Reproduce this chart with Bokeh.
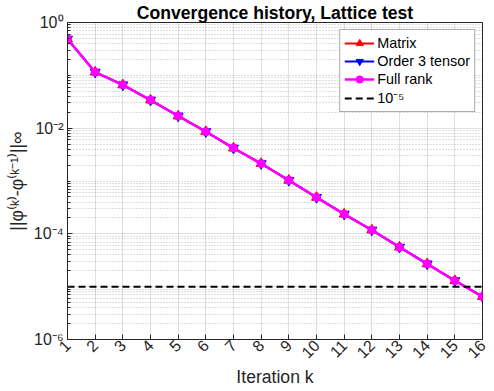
import math
from bokeh.plotting import figure
from bokeh.models import (FixedTicker, Legend, LegendItem,
                          CustomJSTickFormatter, Range1d)
from bokeh.embed import file_html
from bokeh.resources import INLINE

# ---- data ----
iterations = list(range(1, 17))
matrix = [0.485, 0.115, 0.066, 0.034, 0.017, 0.0086, 0.0042, 0.00214, 0.00103,
          0.00049, 0.000236, 0.000118, 0.000056, 0.000027, 0.000013, 0.0000065]
tensor3 = [0.485, 0.115, 0.066, 0.034, 0.017, 0.0086, 0.0042, 0.00214, 0.00103,
           0.00049, 0.000236, 0.000118, 0.000056, 0.000027, 0.000013, 0.0000065]
full_rank = [0.485, 0.115, 0.066, 0.034, 0.017, 0.0086, 0.0042, 0.00214, 0.00103,
             0.00049, 0.000236, 0.000118, 0.000056, 0.000027, 0.000013, 0.0000065]
threshold = 1e-5
x_ticks = list(range(1, 17))
y_major_ticks = [1e-6, 1e-4, 1e-2, 1e0]
y_exponents = list(range(-6, 0))
y_minor_ticks = [m * 10.0 ** e for e in y_exponents for m in range(1, 10)
                 if not (m == 1 and e % 2 == 0)]

TXT = "#262626"
FONT = "Liberation Sans"

p = figure(width=494, height=391, x_range=Range1d(1, 16), y_range=Range1d(1e-6, 1),
           y_axis_type="log", output_backend="svg", toolbar_location=None,
           min_border_left=67, min_border_right=12, min_border_top=20,
           min_border_bottom=52)

p.title.text = "Convergence history, Lattice test"
p.title.text_font = FONT
p.title.text_font_size = "17.6px"
p.title.text_font_style = "bold"
p.title.text_color = "black"
p.title.align = "center"
p.title.standoff = 0
p.title.offset = 0
p.title.text_line_height = 1.0

p.outline_line_color = TXT
p.outline_line_alpha = 1.0

# axes
xt = FixedTicker(ticks=x_ticks, minor_ticks=[])
yt = FixedTicker(ticks=y_major_ticks, minor_ticks=y_minor_ticks)
sup_code = """
const e = Math.round(Math.log10(tick));
const m = {'-':'\u207b','0':'\u2070','1':'\u00b9','2':'\u00b2','3':'\u00b3','4':'\u2074',
           '5':'\u2075','6':'\u2076','7':'\u2077','8':'\u2078','9':'\u2079'};
return '10' + String(e).split('').map(c => m[c]).join('');
"""
p.xaxis.ticker = xt
p.yaxis.ticker = yt
p.yaxis.formatter = CustomJSTickFormatter(code=sup_code)
p.xaxis.major_label_orientation = math.pi / 4
p.xaxis.axis_label = "Iteration k"
p.yaxis.axis_label = "||\u03c6\u207d\u1d4f\u207e-\u03c6\u207d\u1d4f\u207b\u00b9\u207e||\u221e"

for ax in [p.xaxis[0], p.yaxis[0]]:
    ax.axis_line_color = TXT
    ax.major_tick_line_color = TXT
    ax.minor_tick_line_color = TXT
    ax.major_tick_in = 5
    ax.major_tick_out = 0
    ax.minor_tick_in = 3
    ax.minor_tick_out = 0
    ax.major_label_text_font = FONT
    ax.major_label_text_font_size = "16px"
    ax.major_label_text_color = TXT
    ax.major_label_text_line_height = 1.0
    ax.axis_label_text_font = FONT
    ax.axis_label_text_font_size = "17.6px"
    ax.axis_label_text_font_style = "normal"
    ax.axis_label_text_color = TXT
    ax.axis_label_text_line_height = 1.0
p.xaxis[0].minor_tick_line_color = None
p.xaxis[0].major_label_standoff = 3
p.xaxis[0].axis_label_standoff = 0
p.yaxis[0].major_label_standoff = 4
p.yaxis[0].axis_label_standoff = 4

# grids
p.xgrid.ticker = xt
p.ygrid.ticker = yt
p.xgrid.grid_line_color = TXT
p.xgrid.grid_line_alpha = 0.15
p.ygrid.grid_line_color = TXT
p.ygrid.grid_line_alpha = 0.15
p.ygrid.minor_grid_line_color = TXT
p.ygrid.minor_grid_line_alpha = 0.3
p.ygrid.minor_grid_line_dash = "1 2"

# series
r1l = p.line(iterations, matrix, line_color="red", line_width=2)
r1m = p.scatter(iterations, matrix, marker="triangle", size=10, fill_color="red",
                line_color="red")
r2l = p.line(iterations, tensor3, line_color="blue", line_width=2)
r2m = p.scatter(iterations, tensor3, marker="inverted_triangle", size=10,
                fill_color="blue", line_color="blue")
r3l = p.line(iterations, full_rank, line_color="magenta", line_width=2.5)
r3m = p.scatter(iterations, full_rank, marker="circle", size=8, fill_color="magenta",
                line_color="magenta")
r4 = p.line([iterations[0], iterations[-1]], [threshold, threshold], line_color="black",
            line_width=2, line_dash="7 4")

legend = Legend(items=[
    LegendItem(label="Matrix", renderers=[r1l, r1m]),
    LegendItem(label="Order 3 tensor", renderers=[r2l, r2m]),
    LegendItem(label="Full rank", renderers=[r3l, r3m]),
    LegendItem(label="10\u207b\u2075", renderers=[r4]),
], location="top_right")
legend.label_text_font = FONT
legend.label_text_font_size = "14.4px"
legend.label_text_color = "black"
legend.border_line_color = "#555555"
legend.border_line_width = 1
legend.background_fill_alpha = 1.0
legend.margin = 7
legend.padding = 4
legend.spacing = 0
legend.label_standoff = 3
legend.glyph_width = 30
legend.glyph_height = 18
legend.label_height = 18
p.add_layout(legend)

open("out.html", "w").write(file_html(p, INLINE))
